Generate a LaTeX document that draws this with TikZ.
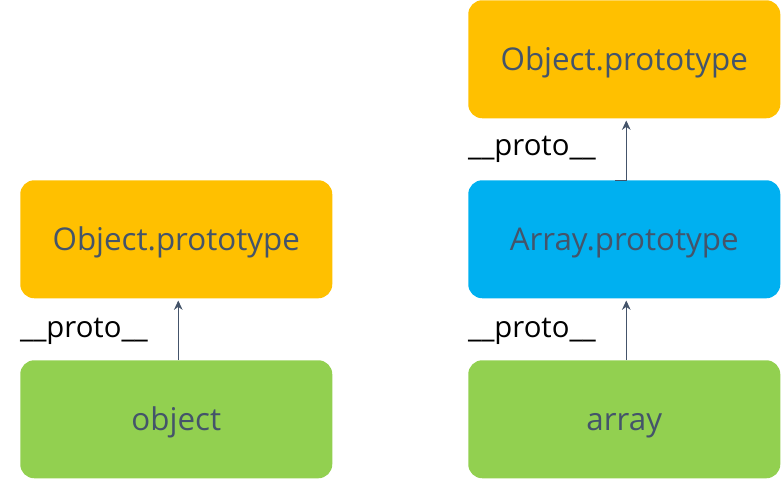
\documentclass[tikz,border=0pt]{standalone}
\usepackage{fontspec}
\setmainfont{Open Sans}
\usetikzlibrary{arrows.meta}
\definecolor{cyel}{HTML}{FFC000}
\definecolor{cblue}{HTML}{00B0F0}
\definecolor{cgreen}{HTML}{92D050}
\definecolor{ctext}{HTML}{44546A}
\tikzset{
  box/.style={draw=none, rounded corners=10.5pt, minimum width=234pt, minimum height=88.5pt,
    inner sep=0, text=ctext, font=\fontsize{23.5}{26}\selectfont, anchor=north west,
    text height=16.8pt, text depth=0pt},
  link/.style={draw=ctext, line width=0.7pt, shorten >=1.5pt, -{Stealth[length=7pt,width=6.5pt]}},
  lbl/.style={font=\fontsize{22}{24}\selectfont, text=black, inner sep=0}
}
\begin{document}
\begin{tikzpicture}[x=0.75pt,y=-0.75pt]
\useasboundingbox (0,0) rectangle (781,479);
\node[box, fill=cyel] (op1) at (20,180) {Object.prototype};
\node[box, fill=cgreen] (obj) at (20,360) {object};
\node[box, fill=cyel] (op2) at (468,0) {Object.prototype};
\node[box, fill=cblue] (ap) at (468,180) {Array.prototype};
\node[box, fill=cgreen] (arr) at (468,360) {array};
\draw[link] ([xshift=1.5pt]obj.north) -- ([xshift=1.5pt]op1.south);
\draw[link] ([xshift=1.5pt]arr.north) -- ([xshift=1.5pt]ap.south);
\draw[link] ([xshift=-7pt]ap.north) -- ([xshift=1.5pt]ap.north) -- ([xshift=1.5pt]op2.south);
\node[lbl] (l1) at (84,331) {\_\_proto\_\_};
\node[lbl] (l2) at (532,331) {\_\_proto\_\_};
\node[lbl] (l3) at (532,149) {\_\_proto\_\_};
\end{tikzpicture}
\end{document}
